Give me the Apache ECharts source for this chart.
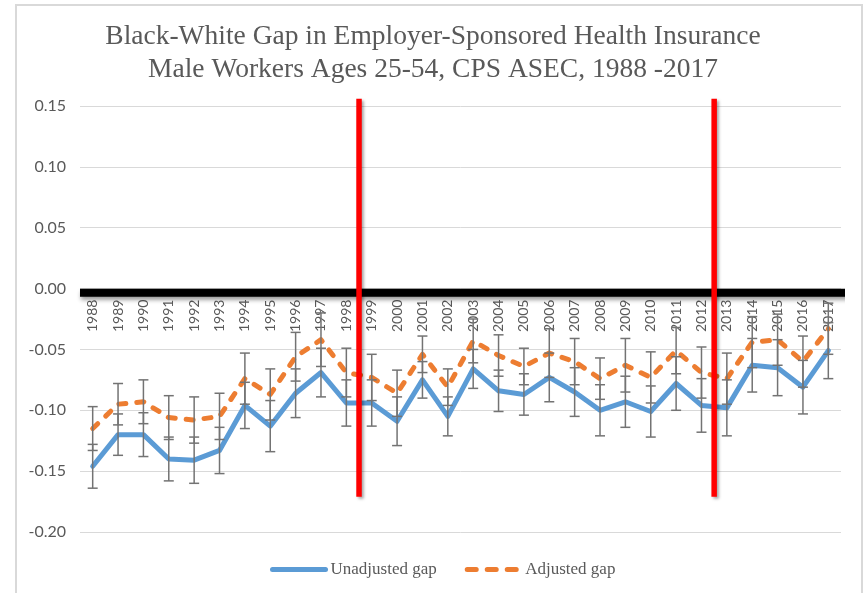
<!DOCTYPE html>
<html>
<head>
<meta charset="utf-8">
<title>Black-White Gap in Employer-Sponsored Health Insurance</title>
<script src="https://cdn.jsdelivr.net/npm/echarts@6/dist/echarts.min.js"></script>
<style>
  html, body { margin: 0; padding: 0; background: #fff; }
  #chart { width: 866px; height: 593px; }
</style>
</head>
<body>
<div id="chart"></div>
<script>
// Survey years (CPS ASEC)
const years = ['1988','1989','1990','1991','1992','1993','1994','1995','1996','1997',
               '1998','1999','2000','2001','2002','2003','2004','2005','2006','2007',
               '2008','2009','2010','2011','2012','2013','2014','2015','2016','2017'];

// Black-white gap in employer-sponsored coverage, raw difference
const unadjusted = [-0.146, -0.120, -0.120, -0.140, -0.141, -0.133, -0.096, -0.113, -0.086, -0.069,
                    -0.094, -0.094, -0.109, -0.075, -0.105, -0.066, -0.084, -0.087, -0.073, -0.085,
                    -0.100, -0.093, -0.101, -0.078, -0.096, -0.098, -0.063, -0.065, -0.081, -0.051];

// Gap after adjusting for worker characteristics
const adjusted = [-0.115, -0.095, -0.093, -0.106, -0.108, -0.105, -0.074, -0.087, -0.056, -0.042,
                  -0.069, -0.073, -0.086, -0.054, -0.081, -0.043, -0.055, -0.064, -0.053, -0.060,
                  -0.074, -0.063, -0.073, -0.051, -0.069, -0.074, -0.044, -0.042, -0.060, -0.033];

// Half-widths of the confidence intervals
const unadjustedErr = [0.018, 0.017, 0.018, 0.018, 0.019, 0.019, 0.019, 0.021, 0.020, 0.020,
                       0.019, 0.019, 0.020, 0.015, 0.016, 0.016, 0.017, 0.017, 0.020, 0.020,
                       0.021, 0.021, 0.021, 0.022, 0.022, 0.023, 0.022, 0.023, 0.022, 0.023];
const adjustedErr = [0.018, 0.017, 0.018, 0.018, 0.019, 0.019, 0.021, 0.021, 0.020, 0.022,
                     0.020, 0.019, 0.019, 0.015, 0.015, 0.018, 0.017, 0.015, 0.020, 0.019,
                     0.017, 0.022, 0.021, 0.019, 0.021, 0.021, 0.021, 0.021, 0.021, 0.021];

// Y-axis scale
const yMin = -0.20, yMax = 0.15, yStep = 0.05;

// Period breaks: first year after each break
const breakYears = ['1999', '2013'];
const breakSpan = [0.156, -0.171];
// Heavy reference line drawn along zero
const baselineY = -0.0035;
const baselineSpan = [0, 30.63];

const labelFont = 'Lato';
const serif = '"Liberation Serif", "Times New Roman", serif';
const textColor = '#595959';

// Plot area
const gridTop = 106, gridBottom = 61, chartHeight = 593;
const plotHeight = chartHeight - gridTop - gridBottom;
// Category labels sit just under the zero line
const zeroOffset = -plotHeight * (0 - yMin) / (yMax - yMin);

function errorData(values, errs) {
  return values.map((v, i) => [i, v - errs[i], v + errs[i]]);
}

function errorBarItem(params, api) {
  const x = api.value(0);
  const lo = api.coord([x, api.value(1)]);
  const hi = api.coord([x, api.value(2)]);
  const half = 5;
  const style = { stroke: '#737373', lineWidth: 1.5 };
  return {
    type: 'group',
    children: [
      { type: 'line', shape: { x1: hi[0], y1: hi[1], x2: lo[0], y2: lo[1] }, style },
      { type: 'line', shape: { x1: hi[0] - half, y1: hi[1], x2: hi[0] + half, y2: hi[1] }, style },
      { type: 'line', shape: { x1: lo[0] - half, y1: lo[1], x2: lo[0] + half, y2: lo[1] }, style }
    ]
  };
}

const orangeDash = [7, 11];
const legendDash = [9, 11];

const breakSeries = breakYears.map((yr) => {
  const pos = years.indexOf(yr);
  return {
    type: 'line',
    xAxisIndex: 1,
    yAxisIndex: 0,
    data: [[pos, breakSpan[0]], [pos, breakSpan[1]]],
    symbol: 'none',
    clip: false,
    silent: true,
    z: 6,
    lineStyle: {
      color: '#ff0000', width: 5.5,
      shadowColor: 'rgba(0,0,0,0.35)', shadowBlur: 3, shadowOffsetX: 2, shadowOffsetY: 2
    }
  };
});

const chart = echarts.init(document.getElementById('chart'), null, { renderer: 'canvas' });

chart.setOption({
  backgroundColor: '#ffffff',
  animation: false,
  graphic: [{
    type: 'rect',
    shape: { x: 16, y: 5, width: 846, height: 600 },
    style: { fill: 'none', stroke: '#d9d9d9', lineWidth: 2 },
    silent: true,
    z: -10
  }],
  title: {
    text: 'Black-White Gap in Employer-Sponsored Health Insurance\nMale Workers Ages 25-54, CPS ASEC, 1988 -2017',
    left: 'center',
    top: 15,
    textStyle: {
      fontFamily: serif, fontSize: 27.5, fontWeight: 'normal',
      color: textColor, lineHeight: 33
    }
  },
  legend: {
    left: 270,
    top: 561,
    itemWidth: 53,
    itemHeight: 16,
    itemGap: 28,
    padding: 0,
    textStyle: { fontFamily: serif, fontSize: 17, color: textColor },
    data: [
      { name: 'Unadjusted gap', itemStyle: { opacity: 0 },
        lineStyle: { width: 5, color: '#5b9bd5', cap: 'round' } },
      { name: 'Adjusted gap', itemStyle: { opacity: 0 },
        lineStyle: { width: 5, color: '#ed7d31', type: legendDash, cap: 'round' } }
    ]
  },
  grid: { left: 80, right: 25, top: gridTop, bottom: gridBottom, containLabel: false },
  xAxis: [{
    type: 'category',
    data: years,
    boundaryGap: true,
    position: 'bottom',
    offset: zeroOffset,
    axisLine: { show: false, onZero: false },
    axisTick: { show: false },
    axisLabel: {
      interval: 0, rotate: 90, margin: 11,
      fontFamily: labelFont, fontSize: 14, color: textColor
    },
    splitLine: { show: false }
  }, {
    type: 'value',
    min: 0, max: years.length,
    show: false
  }],
  yAxis: {
    type: 'value',
    min: yMin, max: yMax, interval: yStep,
    axisLine: { show: false, onZero: false },
    axisTick: { show: false },
    axisLabel: {
      margin: 14, fontFamily: labelFont, fontSize: 16, color: textColor,
      formatter: (v) => v.toFixed(2)
    },
    splitLine: { show: true, lineStyle: { color: '#d9d9d9', width: 1 } }
  },
  series: [
    {
      name: 'Unadjusted gap',
      type: 'line',
      data: unadjusted,
      symbol: 'none',
      z: 2,
      lineStyle: { color: '#5b9bd5', width: 5, cap: 'round', join: 'round' },
      itemStyle: { color: '#5b9bd5' }
    },
    {
      name: 'Adjusted gap',
      type: 'line',
      data: adjusted,
      symbol: 'none',
      z: 2,
      lineStyle: { color: '#ed7d31', width: 5, type: orangeDash, cap: 'round', join: 'round' },
      itemStyle: { color: '#ed7d31' }
    },
    {
      type: 'custom',
      name: 'Unadjusted CI',
      data: errorData(unadjusted, unadjustedErr),
      encode: { x: 0, y: [1, 2] },
      renderItem: errorBarItem,
      silent: true,
      z: 3
    },
    {
      type: 'custom',
      name: 'Adjusted CI',
      data: errorData(adjusted, adjustedErr),
      encode: { x: 0, y: [1, 2] },
      renderItem: errorBarItem,
      silent: true,
      z: 3
    },
    {
      type: 'line',
      xAxisIndex: 1,
      yAxisIndex: 0,
      data: [[baselineSpan[0], baselineY], [baselineSpan[1], baselineY]],
      symbol: 'none',
      clip: false,
      silent: true,
      z: 5,
      lineStyle: {
        color: '#000000', width: 8,
        shadowColor: 'rgba(0,0,0,0.4)', shadowBlur: 4, shadowOffsetX: 1, shadowOffsetY: 3
      }
    }
  ].concat(breakSeries)
});
</script>
</body>
</html>
